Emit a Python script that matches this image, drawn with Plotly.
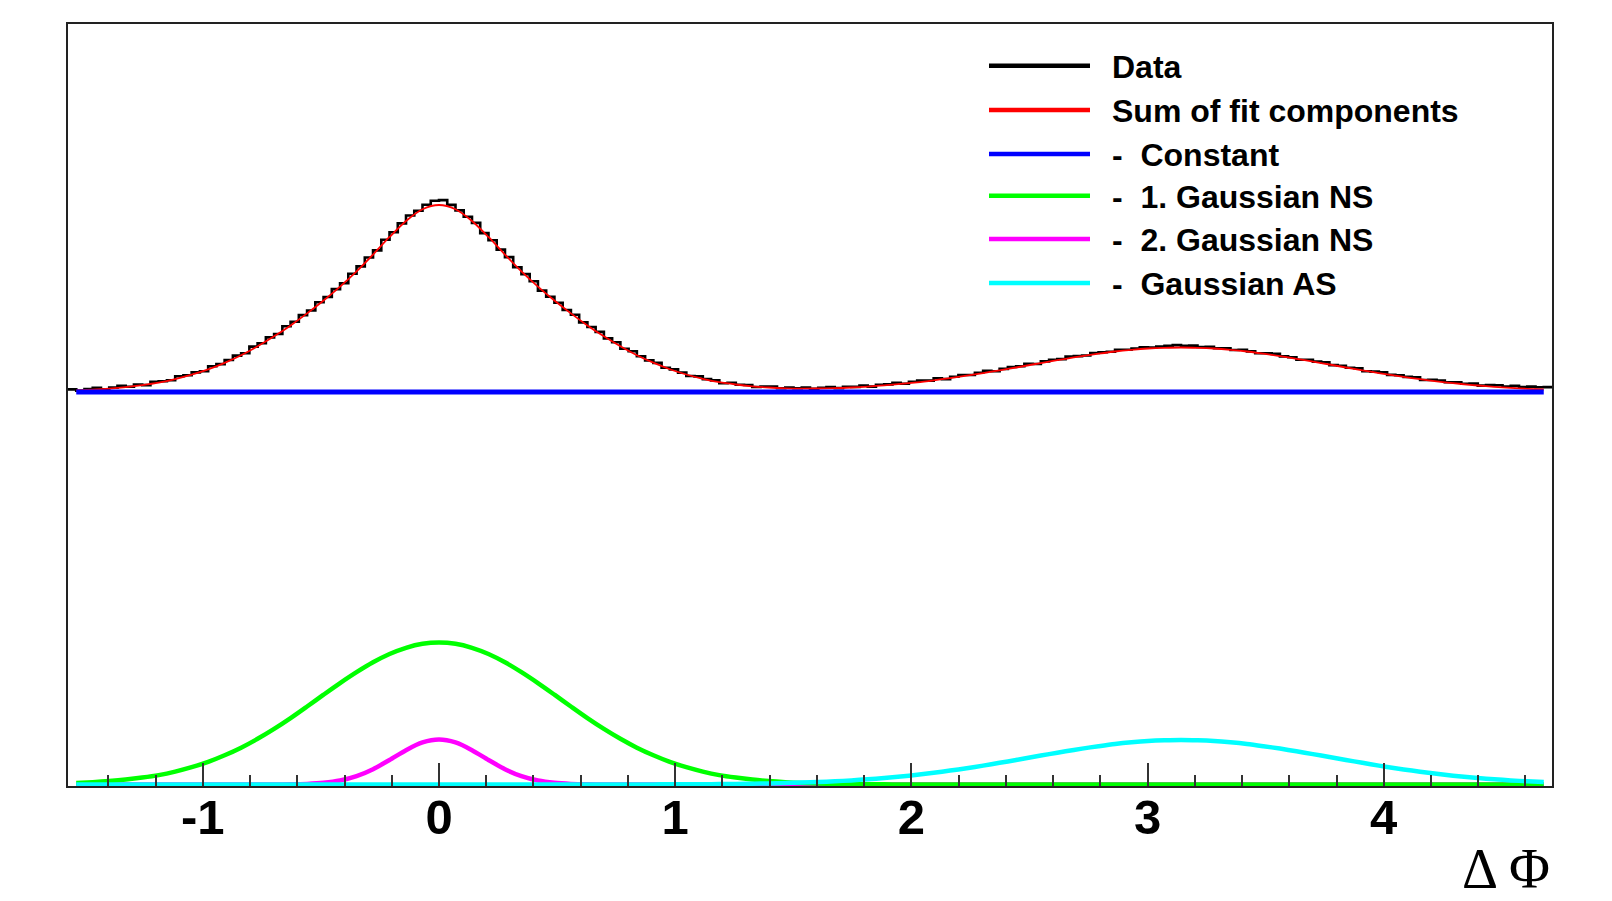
import numpy as np
import plotly.graph_objects as go

# ---------------- data: 180 bins over [-pi/2, 3pi/2] ----------------
data_counts = [
    395.1, 393.8, 395.5, 396.6, 395.3, 396.9, 398.8, 397.8, 399.9, 399.4,
    402.7, 403.3, 404.3, 408.3, 409.3, 412.1, 413.3, 418.3, 420.4, 424.5,
    428.9, 431.3, 437.9, 441.2, 447.1, 450.5, 458.3, 462.8, 469.4, 474.0,
    482.3, 487.5, 495.4, 501.2, 510.8, 518.1, 527.0, 534.1, 544.8, 552.3,
    561.1, 569.0, 573.8, 579.7, 583.8, 584.4, 579.6, 574.1, 567.8, 561.6,
    551.4, 544.3, 534.9, 527.4, 517.3, 510.4, 503.2, 493.9, 487.8, 481.8,
    474.5, 469.8, 462.1, 457.5, 452.6, 446.1, 442.2, 435.7, 433.2, 428.3,
    424.1, 421.6, 416.7, 415.1, 411.9, 408.5, 408.1, 405.4, 404.1, 401.3,
    401.7, 399.8, 399.5, 397.5, 398.0, 398.0, 396.2, 397.0, 396.3, 397.0,
    395.6, 396.8, 397.5, 396.4, 397.7, 397.6, 399.0, 397.9, 399.8, 400.1,
    401.6, 400.8, 402.7, 403.9, 403.9, 406.2, 405.4, 407.8, 409.5, 409.5,
    411.7, 413.7, 413.2, 415.6, 417.5, 418.2, 420.7, 420.5, 423.1, 424.7,
    425.4, 427.9, 428.4, 429.0, 431.5, 432.2, 432.7, 434.8, 434.8, 436.0,
    437.3, 436.9, 437.9, 438.8, 439.4, 438.7, 438.9, 437.5, 437.6, 436.2,
    436.1, 434.5, 434.7, 433.1, 431.2, 431.3, 430.6, 428.1, 427.3, 424.7,
    424.8, 422.9, 422.3, 419.4, 418.8, 416.8, 416.2, 413.2, 412.9, 412.1,
    409.6, 409.3, 407.6, 407.3, 404.5, 404.6, 403.9, 402.2, 402.2, 400.8,
    400.9, 398.9, 399.4, 399.3, 397.9, 398.6, 397.4, 397.9, 397.2, 397.4,
]

# ---------------- fit components: 90 bins over [-pi/2, 3pi/2] ----------------
constant_level = 392.5

gauss_ns1 = [
    1.5, 2.3, 3.4, 4.9, 6.9, 9.4, 12.9, 17.3, 22.6, 29.2,
    36.8, 45.7, 55.6, 66.4, 78.0, 89.8, 101.4, 112.3, 122.2, 130.5,
    136.7, 140.7, 142.0, 140.7, 136.7, 130.5, 122.2, 112.3, 101.4, 89.8,
    78.0, 66.4, 55.6, 45.7, 36.8, 29.2, 22.6, 17.3, 12.9, 9.4,
    6.9, 4.9, 3.4, 2.3, 1.5, 1.0, 0.6, 0.4, 0.25, 0.15,
    0.09, 0, 0, 0, 0, 0, 0, 0, 0, 0,
    0, 0, 0, 0, 0, 0, 0, 0, 0, 0,
    0, 0, 0, 0, 0, 0, 0, 0, 0, 0,
    0, 0, 0, 0, 0, 0, 0, 0, 0, 0,
]

gauss_ns2 = [
    0, 0, 0, 0, 0, 0, 0, 0, 0, 0,
    0, 0, 0.05, 0.19, 0.60, 1.65, 3.96, 8.32, 15.28, 24.51,
    34.35, 42.06, 45.0, 42.06, 34.35, 24.51, 15.28, 8.32, 3.96, 1.65,
    0.60, 0.19, 0.05, 0, 0, 0, 0, 0, 0, 0,
    0, 0, 0, 0, 0, 0, 0, 0, 0, 0,
    0, 0, 0, 0, 0, 0, 0, 0, 0, 0,
    0, 0, 0, 0, 0, 0, 0, 0, 0, 0,
    0, 0, 0, 0, 0, 0, 0, 0, 0, 0,
    0, 0, 0, 0, 0, 0, 0, 0, 0, 0,
]

gauss_as = [
    0, 0, 0, 0, 0, 0, 0, 0, 0, 0,
    0, 0, 0, 0, 0, 0, 0, 0, 0, 0,
    0, 0, 0, 0, 0, 0, 0, 0, 0, 0,
    0, 0, 0, 0, 0, 0.1, 0.15, 0.2, 0.3, 0.4,
    0.6, 0.8, 1.1, 1.4, 1.9, 2.5, 3.2, 4.1, 5.2, 6.5,
    8.0, 9.7, 11.7, 13.9, 16.3, 18.9, 21.7, 24.5, 27.5, 30.4,
    33.2, 35.9, 38.3, 40.5, 42.2, 43.5, 44.2, 44.5, 44.2, 43.5,
    42.2, 40.5, 38.3, 35.9, 33.2, 30.4, 27.5, 24.5, 21.7, 18.9,
    16.3, 13.9, 11.7, 9.7, 8.0, 6.5, 5.2, 4.1, 3.2, 2.5,
]

tick_values = [-1, 0, 1, 2, 3, 4]
tick_labels = ["-1", "0", "1", "2", "3", "4"]

legend_labels = [
    "Data",
    "Sum of fit components",
    "-\u00a0\u00a0Constant",
    "-\u00a0\u00a01. Gaussian NS",
    "-\u00a0\u00a02. Gaussian NS",
    "-\u00a0\u00a0Gaussian AS",
]
legend_colors = ["#000000", "#ff0000", "#0000ff", "#00ff00", "#ff00ff", "#00ffff"]

# ---------------- geometry helpers ----------------
W, H = 1612, 901
ML, MR, MT, MB = 68, 60, 24, 115
PW = W - ML - MR
PH = H - MT - MB
Y_OFF = 1.5  # lift the zero level a little so the thick baselines stay visible


def px_x(px):
    return (px - ML) / PW


def px_y(py):
    return (H - MB - py) / PH


x_lo, x_hi = -np.pi / 2, 3 * np.pi / 2

data_edges = np.linspace(x_lo, x_hi, len(data_counts) + 1)

comp_edges = np.linspace(x_lo, x_hi, len(gauss_ns1) + 1)
comp_centers = 0.5 * (comp_edges[1:] + comp_edges[:-1])

g1 = np.array(gauss_ns1)
g2 = np.array(gauss_ns2)
gas = np.array(gauss_as)
fit_sum = constant_level + g1 + g2 + gas

fig = go.Figure()

# data histogram (step)
fig.add_trace(go.Scatter(
    x=data_edges, y=list(data_counts) + [data_counts[-1]], mode="lines",
    line=dict(color="#000000", width=2.6, shape="hv"), showlegend=False,
))
# sum of fit components
fig.add_trace(go.Scatter(
    x=comp_centers, y=fit_sum, mode="lines",
    line=dict(color="#ff0000", width=1.8, shape="spline", smoothing=0.8), showlegend=False,
))
# constant
fig.add_trace(go.Scatter(
    x=[comp_centers[0], comp_centers[-1]], y=[constant_level, constant_level], mode="lines",
    line=dict(color="#0000ff", width=5), showlegend=False,
))
# components (drawing order: 2nd NS, 1st NS, AS)
fig.add_trace(go.Scatter(
    x=comp_centers, y=g2, mode="lines",
    line=dict(color="#ff00ff", width=4.5, shape="spline", smoothing=0.8), showlegend=False,
))
fig.add_trace(go.Scatter(
    x=comp_centers, y=g1, mode="lines",
    line=dict(color="#00ff00", width=4.5, shape="spline", smoothing=0.8), showlegend=False,
))
fig.add_trace(go.Scatter(
    x=comp_centers, y=gas, mode="lines",
    line=dict(color="#00ffff", width=4.5, shape="spline", smoothing=0.8), showlegend=False,
))

# manual legend (ROOT style)
legend_rows_px = [65.7, 110, 154, 195.7, 239, 283]
for lab, col, ry in zip(legend_labels, legend_colors, legend_rows_px):
    fig.add_shape(type="line", xref="paper", yref="paper",
                  x0=px_x(989), x1=px_x(1090), y0=px_y(ry), y1=px_y(ry),
                  line=dict(color=col, width=4.5))
    fig.add_annotation(text=lab, xref="paper", yref="paper",
                       x=px_x(1110), y=px_y(ry + 1.0), xanchor="left", yanchor="middle",
                       showarrow=False,
                       font=dict(family="Liberation Sans, Arial", size=32, color="#000000",
                                 weight="bold"))

# axis title
fig.add_annotation(text="Δ Φ", xref="paper", yref="paper",
                   x=1.0, y=px_y(869.0), xanchor="right", yanchor="middle",
                   showarrow=False,
                   font=dict(family="Liberation Serif, Times New Roman", size=56, color="#000000"))

fig.update_layout(
    width=W, height=H,
    margin=dict(l=ML, r=MR, t=MT, b=MB, pad=0),
    paper_bgcolor="white", plot_bgcolor="white",
    showlegend=False,
    xaxis=dict(
        range=[x_lo, x_hi],
        tickmode="array", tickvals=tick_values, ticktext=tick_labels,
        ticks="inside", ticklen=23, tickwidth=1.5, tickcolor="#333333",
        showline=True, mirror=True, linecolor="#222222", linewidth=2,
        showgrid=False, zeroline=False,
        ticklabelstandoff=-13,
        tickfont=dict(family="Liberation Sans, Arial", size=49, color="#000000", weight="bold"),
        minor=dict(tickmode="linear", tick0=0, dtick=0.2, ticks="inside", ticklen=11,
                   tickwidth=1.5, tickcolor="#333333", showgrid=False),
    ),
    yaxis=dict(
        range=[-Y_OFF, PH - Y_OFF],
        showticklabels=False, ticks="",
        showline=True, mirror=True, linecolor="#222222", linewidth=2,
        showgrid=False, zeroline=False,
    ),
)

fig.write_html("out.html")
